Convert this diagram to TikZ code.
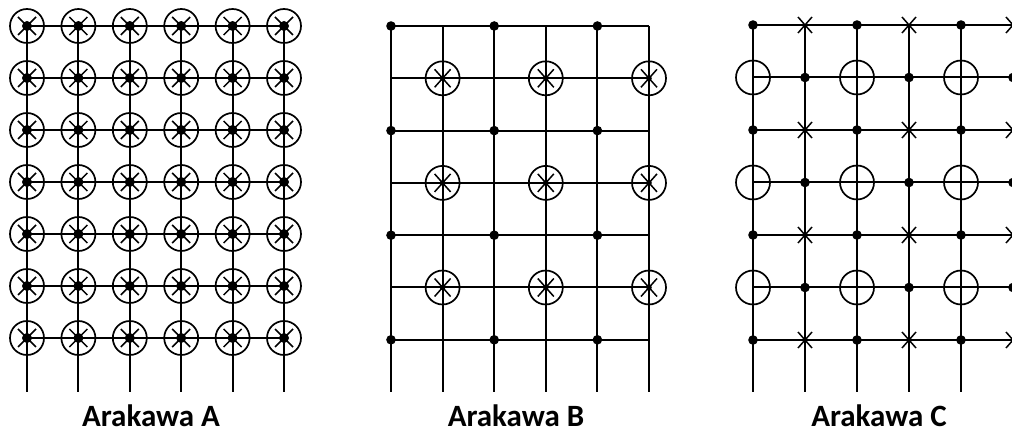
\documentclass[tikz,border=0pt]{standalone}
\usepackage{fontspec}
\newfontfamily\labelfont{Carlito}
\begin{document}
\begin{tikzpicture}[x=1pt,y=-1pt,
  gridline/.style={line width=2pt,black},
  ring/.style={line width=1.7pt,black},
  xmark/.style={line width=1.5pt,black},
  caption/.style={font=\labelfont\bfseries\fontsize{31}{36}\selectfont,anchor=base,inner sep=0pt,text=black}
]
\useasboundingbox (0,0) rectangle (1012,435);
\begin{scope}
\clip (0,0) rectangle (1012,435);
% ---------------- Arakawa A ----------------
\foreach \i in {0,...,5}{
  \draw[gridline] ({27+51.4*\i},26) -- ({27+51.4*\i},392);
}
\foreach \j in {0,...,6}{
  \draw[gridline] (27,{26+52*\j}) -- (284,{26+52*\j});
}
\foreach \i in {0,...,5}{
  \foreach \j in {0,...,6}{
    \coordinate (a-\i-\j) at ({27+51.4*\i},{26+52*\j});
    \draw[ring] (a-\i-\j) circle (17);
    \draw[xmark] ([shift={(-9,-9)}]a-\i-\j) -- ([shift={(9,9)}]a-\i-\j)
                 ([shift={(-9,9)}]a-\i-\j) -- ([shift={(9,-9)}]a-\i-\j);
    \fill (a-\i-\j) circle (5);
  }
}
% ---------------- Arakawa B ----------------
\foreach \i in {0,...,5}{
  \draw[gridline] ({391+51.6*\i},26) -- ({391+51.6*\i},392);
}
\foreach \j in {0,...,6}{
  \draw[gridline] (391,{26+52.3*\j}) -- (649,{26+52.3*\j});
}
\foreach \i in {0,2,4}{
  \foreach \j in {0,2,4,6}{
    \fill ({391+51.6*\i},{26+52.3*\j}) circle (4.8);
  }
}
\foreach \i in {1,3,5}{
  \foreach \j in {1,3,5}{
    \coordinate (b-\i-\j) at ({391+51.6*\i},{26+52.3*\j});
    \draw[ring] (b-\i-\j) circle (17);
    \draw[xmark] ([shift={(-8,-9)}]b-\i-\j) -- ([shift={(8,9)}]b-\i-\j)
                 ([shift={(-8,9)}]b-\i-\j) -- ([shift={(8,-9)}]b-\i-\j);
    \fill (b-\i-\j) circle (2.8);
  }
}
% ---------------- Arakawa C ----------------
\foreach \i in {0,...,5}{
  \draw[gridline] ({753+52*\i},25) -- ({753+52*\i},392);
}
\foreach \j in {0,...,6}{
  \draw[gridline] (753,{25+52.5*\j}) -- (1020,{25+52.5*\j});
}
% v-rows: dots at even columns, crosses at odd columns
\foreach \j in {0,2,4,6}{
  \foreach \i in {0,2,4}{
    \fill ({753+52*\i},{25+52.5*\j}) circle (4.8);
  }
  \foreach \i in {1,3,5}{
    \coordinate (c-\i-\j) at ({753+52*\i},{25+52.5*\j});
    \draw[xmark] ([shift={(-7,-8)}]c-\i-\j) -- ([shift={(7,8)}]c-\i-\j)
                 ([shift={(-7,8)}]c-\i-\j) -- ([shift={(7,-8)}]c-\i-\j);
  }
}
% u-rows: open circles at even columns, dots at odd columns
\foreach \j in {1,3,5}{
  \foreach \i in {0,2,4}{
    \draw[ring] ({753+52*\i},{25+52.5*\j}) circle (17);
  }
  \foreach \i in {1,3,5}{
    \fill ({753+52*\i},{25+52.5*\j}) circle (4.8);
  }
}
\end{scope}
% ---------------- captions ----------------
\node[caption] (capA) at (151,427) {Arakawa A};
\node[caption] (capB) at (516,427) {Arakawa B};
\node[caption] (capC) at (879,427) {Arakawa C};
\end{tikzpicture}
\end{document}
